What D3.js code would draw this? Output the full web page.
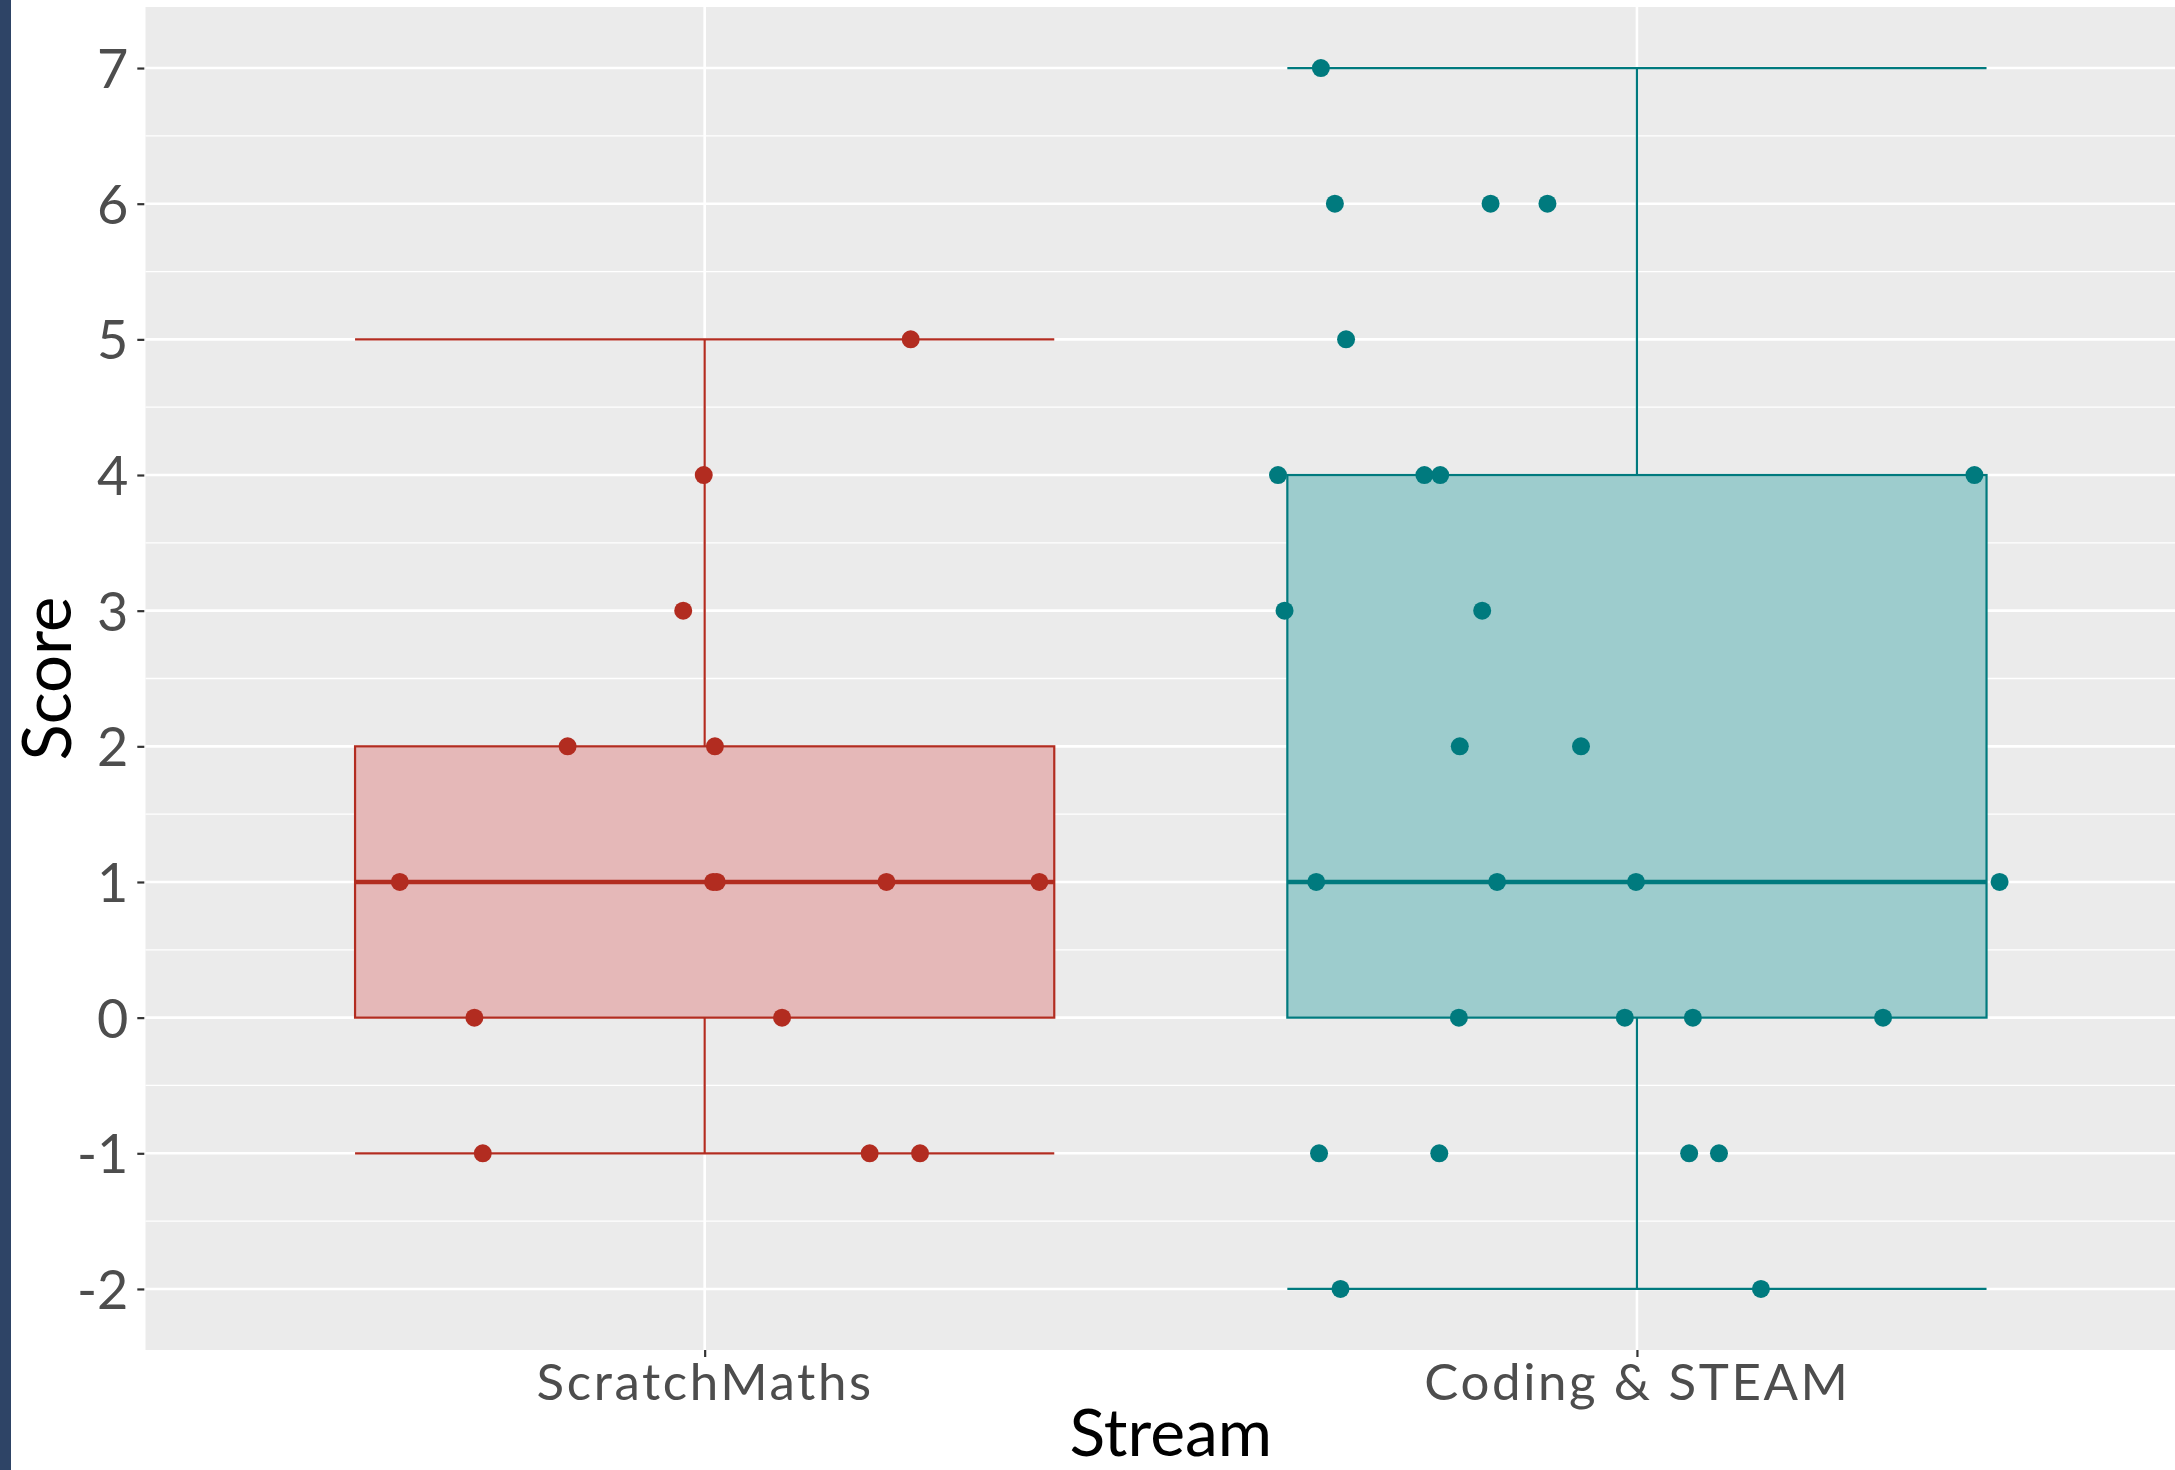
<!DOCTYPE html>
<html>
<head>
<meta charset="utf-8">
<script src="https://cdn.jsdelivr.net/npm/d3@7"></script>
<style>
  html, body { margin: 0; padding: 0; background: #ffffff; }
  svg { display: block; }
</style>
</head>
<body>
<script>
// ---- data ----
const categories = ["ScratchMaths", "Coding & STEAM"];
const scratchScores = [5, 4, 3, 2, 2, 1, 1, 1, 1, 1, 0, 0, -1, -1, -1];
const scratchJitter = [0.221, -0.001, -0.023, -0.147, 0.011, -0.327, 0.009, 0.013, 0.195, 0.359, -0.247, 0.083, -0.238, 0.177, 0.231];
const codingScores = [7, 6, 6, 6, 5, 4, 4, 4, 4, 3, 3, 2, 2, 1, 1, 1, 1, 0, 0, 0, 0, -1, -1, -1, -1, -2, -2];
const codingJitter = [-0.339, -0.324, -0.157, -0.096, -0.312, -0.385, -0.228, -0.211, 0.362, -0.378, -0.166, -0.190, -0.060, -0.344, -0.150, -0.001, 0.389, -0.191, -0.013, 0.060, 0.264, -0.341, -0.212, 0.056, 0.088, -0.318, 0.133];
const yTicks = [-2, -1, 0, 1, 2, 3, 4, 5, 6, 7];
const yTickLabels = ["-2", "-1", "0", "1", "2", "3", "4", "5", "6", "7"];
const lineColors = ["#b22c20", "#007a7e"];
const fillColors = ["#e5b8b8", "#9dcccd"];

const W = 2175, H = 1470;
const svg = d3.select("body").append("svg").attr("width", W).attr("height", H);

// dark strip on the left
svg.append("rect").attr("x", 0).attr("y", 0).attr("width", 11).attr("height", H).attr("fill", "#2e4466");

const panel = { left: 145.3, right: 2196.3, top: 7, bottom: 1350 };
const x = d3.scaleLinear().domain([0.4, 2.6]).range([panel.left, panel.right]);
const y = d3.scaleLinear().domain([-2.45, 7.45]).range([panel.bottom, panel.top]);

svg.append("clipPath").attr("id", "pc").append("rect")
  .attr("x", panel.left).attr("y", panel.top)
  .attr("width", panel.right - panel.left).attr("height", panel.bottom - panel.top);

const g = svg.append("g").attr("clip-path", "url(#pc)");
g.append("rect").attr("x", panel.left).attr("y", panel.top)
  .attr("width", panel.right - panel.left).attr("height", panel.bottom - panel.top)
  .attr("fill", "#ebebeb");

// minor gridlines
const minor = d3.range(-2.5, 7.5, 1).filter(v => v > -2.45 && v < 7.45);
g.selectAll(".minor").data(minor).enter().append("line")
  .attr("x1", panel.left).attr("x2", panel.right)
  .attr("y1", d => y(d)).attr("y2", d => y(d))
  .attr("stroke", "#ffffff").attr("stroke-width", 1.3);
// major gridlines
g.selectAll(".major").data(yTicks).enter().append("line")
  .attr("x1", panel.left).attr("x2", panel.right)
  .attr("y1", d => y(d)).attr("y2", d => y(d))
  .attr("stroke", "#ffffff").attr("stroke-width", 2.6);
g.selectAll(".vmajor").data([1, 2]).enter().append("line")
  .attr("y1", panel.top).attr("y2", panel.bottom)
  .attr("x1", d => x(d)).attr("x2", d => x(d))
  .attr("stroke", "#ffffff").attr("stroke-width", 2.6);

const groups = [
  { scores: scratchScores, jitter: scratchJitter },
  { scores: codingScores, jitter: codingJitter }
];

const boxW = 0.75;
groups.forEach((grp, i) => {
  const pos = i + 1;
  const s = grp.scores.slice().sort(d3.ascending);
  const q1 = d3.quantile(s, 0.25), med = d3.quantile(s, 0.5), q3 = d3.quantile(s, 0.75);
  const iqr = q3 - q1;
  const lo = d3.min(s.filter(v => v >= q1 - 1.5 * iqr));
  const hi = d3.max(s.filter(v => v <= q3 + 1.5 * iqr));
  const xl = x(pos - boxW / 2), xr = x(pos + boxW / 2), xc = x(pos);
  const col = lineColors[i];
  // whiskers (errorbar style)
  [[hi, q3], [lo, q1]].forEach(([end, edge]) => {
    g.append("line").attr("x1", xc).attr("x2", xc).attr("y1", y(end)).attr("y2", y(edge))
      .attr("stroke", col).attr("stroke-width", 2.2);
    g.append("line").attr("x1", xl).attr("x2", xr).attr("y1", y(end)).attr("y2", y(end))
      .attr("stroke", col).attr("stroke-width", 2.2);
  });
  // box
  g.append("rect").attr("x", xl).attr("y", y(q3)).attr("width", xr - xl).attr("height", y(q1) - y(q3))
    .attr("fill", fillColors[i]).attr("stroke", col).attr("stroke-width", 2.2);
  g.append("line").attr("x1", xl).attr("x2", xr).attr("y1", y(med)).attr("y2", y(med))
    .attr("stroke", col).attr("stroke-width", 4.6);
  // points
  g.selectAll(".pt" + i).data(grp.scores.map((v, k) => ({ v, j: grp.jitter[k] }))).enter()
    .append("circle")
    .attr("cx", d => x(pos + d.j)).attr("cy", d => y(d.v)).attr("r", 9)
    .attr("fill", col);
});

// axes
const yAxis = d3.axisLeft(y).tickValues(yTicks).tickSize(7).tickPadding(9)
  .tickFormat((d, k) => yTickLabels[k]);
const ya = svg.append("g").attr("transform", `translate(${panel.left - 1},0)`).call(yAxis);
ya.select(".domain").remove();
ya.selectAll(".tick line").attr("stroke", "#333333").attr("stroke-width", 2.2);
ya.selectAll(".tick text").attr("fill", "#4d4d4d").style("font-family", "Lato, 'Noto Sans', sans-serif")
  .style("font-size", "54px").attr("dy", "0.36em");

const xAxis = d3.axisBottom(x).tickValues([1, 2]).tickSize(7).tickPadding(9)
  .tickFormat(d => categories[d - 1]);
const xa = svg.append("g").attr("transform", `translate(0,${panel.bottom})`).call(xAxis);
xa.select(".domain").remove();
xa.selectAll(".tick line").attr("stroke", "#333333").attr("stroke-width", 2.2);
xa.selectAll(".tick text").attr("fill", "#4d4d4d").style("font-family", "Lato, 'Noto Sans', sans-serif")
  .style("font-size", "51px").style("letter-spacing", "2.6px").attr("dy", null).attr("y", 50);

// titles
svg.append("text").attr("x", (panel.left + panel.right) / 2).attr("y", 1456)
  .attr("text-anchor", "middle").attr("fill", "#000000")
  .style("font-family", "Lato, 'Noto Sans', sans-serif").style("font-size", "66px").text("Stream");
svg.append("text").attr("transform", `translate(70.5,${(panel.top + panel.bottom) / 2}) rotate(-90)`)
  .attr("text-anchor", "middle").attr("fill", "#000000")
  .style("font-family", "Lato, 'Noto Sans', sans-serif").style("font-size", "67px").text("Score");
</script>
</body>
</html>
